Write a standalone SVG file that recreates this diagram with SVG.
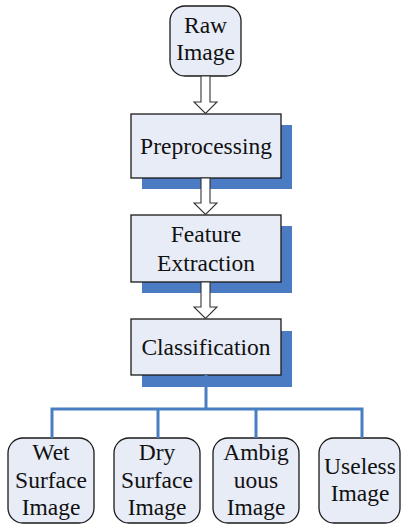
<svg xmlns="http://www.w3.org/2000/svg" width="401" height="527" viewBox="0 0 401 527">
<style>
.bg{fill:#ffffff}
.shadow{fill:#4A7BC3}
.box{fill:#E7ECF7;stroke:#1a1a1a;stroke-width:1.3}
.t{font-family:'Liberation Serif','DejaVu Serif',serif;font-size:23.5px;fill:#111;text-anchor:middle}
.arrow{fill:#ffffff;stroke:#333;stroke-width:1.1;stroke-linejoin:miter}
.tree{fill:none;stroke:#4A7EC4;stroke-width:3}
</style>
<rect class="bg" x="0" y="0" width="401" height="527"/>
<g id="raw-image">
<rect class="box" x="170" y="6" width="71" height="70" rx="15" ry="15"/>
<text class="t" x="205.5" y="33" font-family="Liberation Serif, serif">Raw</text>
<text class="t" x="205.5" y="60">Image</text>
</g>
<g id="preprocessing">
<rect class="shadow" x="142" y="125" width="150" height="64"/>
<rect class="box" x="131" y="114" width="150" height="64"/>
<text class="t" x="206" y="154">Preprocessing</text>
</g>
<g id="feature-extraction">
<rect class="shadow" x="142" y="226" width="150" height="67"/>
<rect class="box" x="131" y="215" width="150" height="67"/>
<text class="t" x="206" y="242">Feature</text>
<text class="t" x="206" y="271">Extraction</text>
</g>
<g id="classification">
<rect class="shadow" x="142" y="331" width="150" height="56"/>
<rect class="box" x="131" y="319" width="150" height="56"/>
<text class="t" x="206" y="355">Classification</text>
</g>
<g id="wet-surface-image">
<rect class="box" x="8" y="438" width="86" height="85" rx="15" ry="15"/>
<text class="t" x="51" y="460">Wet</text>
<text class="t" x="51" y="487.5">Surface</text>
<text class="t" x="51" y="515">Image</text>
</g>
<g id="dry-surface-image">
<rect class="box" x="114" y="438" width="86" height="85" rx="15" ry="15"/>
<text class="t" x="157" y="460">Dry</text>
<text class="t" x="157" y="487.5">Surface</text>
<text class="t" x="157" y="515">Image</text>
</g>
<g id="ambiguous-image">
<rect class="box" x="213" y="438" width="86" height="85" rx="15" ry="15"/>
<text class="t" x="256" y="460">Ambig</text>
<text class="t" x="256" y="487.5">uous</text>
<text class="t" x="256" y="515">Image</text>
</g>
<g id="useless-image">
<rect class="box" x="319" y="438" width="81" height="85" rx="15" ry="15"/>
<text class="t" x="360" y="474">Useless</text>
<text class="t" x="360" y="501">Image</text>
</g>
<g id="connectors">
<polygon class="arrow" points="201,76 210,76 210,102 217,102 205.5,113.5 194,102 201,102"/>
<polygon class="arrow" points="201,178 210,178 210,203 217,203 205.5,214.5 194,203 201,203"/>
<polygon class="arrow" points="201,282 210,282 210,307 217,307 205.5,318.5 194,307 201,307"/>
<path class="tree" d="M206,375 V409 M52,438 V409 H362 V438 M158,409 V438 M256,409 V438"/>
</g>
</svg>
